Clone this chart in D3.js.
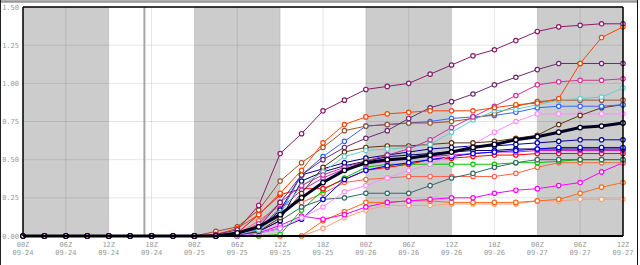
<!DOCTYPE html>
<html>
<head>
<meta charset="utf-8">
<script src="https://cdn.jsdelivr.net/npm/d3@7"></script>
<style>
    body { margin: 0; background: #fff; }
    svg { display: block; }
    .lbl { font-family: "DejaVu Sans Mono", monospace; font-size: 7px; fill: #999; }
</style>
</head>
<body>
<div id="chart"></div>
<script>
// forecast hours from 00Z 09-24, every 3h
const hours = [0, 3, 6, 9, 12, 15, 18, 21, 24, 27, 30, 33, 36, 39, 42, 45, 48, 51, 54, 57, 60, 63, 66, 69, 72, 75, 78, 81, 84];

const tickHours = [0, 6, 12, 18, 24, 30, 36, 42, 48, 54, 60, 66, 72, 78, 84];
const tickTimes = ["00Z", "06Z", "12Z", "18Z", "00Z", "06Z", "12Z", "18Z", "00Z", "06Z", "12Z", "18Z", "00Z", "06Z", "12Z"];
const tickDates = ["09-24", "09-24", "09-24", "09-24", "09-25", "09-25", "09-25", "09-25", "09-26", "09-26", "09-26", "09-26", "09-27", "09-27", "09-27"];
const yTicks = [0, 0.25, 0.5, 0.75, 1, 1.25, 1.5];

const nightBands = [[0, 12], [24, 36], [48, 60], [72, 84]];
const nowHour = 17;

// ensemble members (accumulated amount)
const purple      = [0,0,0,0,0,0,0,0,0, 0.01,0.04,0.20,0.54,0.67,0.82,0.89,0.96,0.98,1.00,1.06,1.12,1.18,1.22,1.28,1.34,1.37,1.38,1.39,1.39];
const orangeRed   = [0,0,0,0,0,0,0,0,0, 0.01,0.05,0.14,0.28,0.43,0.61,0.73,0.78,0.80,0.81,0.82,0.82,0.82,0.84,0.86,0.87,0.90,1.13,1.30,1.37];
const darkPurple  = [0,0,0,0,0,0,0,0,0, 0,0.01,0.06,0.22,0.40,0.50,0.58,0.64,0.69,0.77,0.84,0.88,0.93,0.99,1.04,1.09,1.13,1.13,1.13,1.13];
const violetRed   = [0,0,0,0,0,0,0,0,0, 0,0.01,0.08,0.22,0.33,0.40,0.45,0.49,0.53,0.57,0.63,0.71,0.78,0.85,0.92,0.99,1.01,1.02,1.02,1.03];
const turquoise   = [0,0,0,0,0,0,0,0,0, 0,0.01,0.04,0.15,0.33,0.42,0.52,0.56,0.57,0.58,0.60,0.68,0.76,0.82,0.83,0.86,0.89,0.90,0.91,0.97];
const sienna      = [0,0,0,0,0,0,0,0,0, 0.03,0.06,0.17,0.36,0.48,0.58,0.69,0.72,0.73,0.74,0.74,0.75,0.77,0.80,0.85,0.88,0.89,0.89,0.89,0.89];
const royalBlue   = [0,0,0,0,0,0,0,0,0, 0,0.01,0.04,0.15,0.40,0.52,0.62,0.72,0.73,0.74,0.75,0.77,0.78,0.79,0.81,0.84,0.85,0.85,0.85,0.86];
const darkBrown   = [0,0,0,0,0,0,0,0,0, 0,0.01,0.03,0.12,0.28,0.45,0.55,0.58,0.59,0.59,0.60,0.61,0.61,0.62,0.64,0.66,0.73,0.79,0.84,0.86];
const lightPink   = [0,0,0,0,0,0,0,0,0, 0,0,0.02,0.05,0.12,0.19,0.29,0.33,0.38,0.43,0.47,0.53,0.60,0.68,0.75,0.80,0.80,0.80,0.80,0.80];
const navy        = [0,0,0,0,0,0,0,0,0, 0,0.01,0.04,0.17,0.40,0.44,0.48,0.51,0.53,0.55,0.57,0.58,0.59,0.59,0.60,0.61,0.62,0.63,0.63,0.63];
const blue        = [0,0,0,0,0,0,0,0,0, 0,0,0.02,0.05,0.11,0.24,0.37,0.43,0.46,0.48,0.50,0.52,0.54,0.55,0.56,0.57,0.58,0.58,0.58,0.58];
const darkNavy    = [0,0,0,0,0,0,0,0,0, 0,0.01,0.03,0.10,0.36,0.42,0.46,0.49,0.52,0.53,0.54,0.55,0.56,0.56,0.57,0.57,0.57,0.57,0.57,0.57];
const violet      = [0,0,0,0,0,0,0,0,0, 0,0.01,0.05,0.18,0.30,0.38,0.44,0.47,0.49,0.51,0.52,0.53,0.54,0.55,0.55,0.56,0.56,0.56,0.56,0.56];
const red         = [0,0,0,0,0,0,0,0,0, 0,0.02,0.14,0.27,0.31,0.31,0.37,0.43,0.45,0.47,0.50,0.51,0.52,0.53,0.53,0.54,0.54,0.54,0.54,0.54];
const darkTeal    = [0,0,0,0,0,0,0,0,0, 0,0,0.03,0.10,0.19,0.24,0.25,0.28,0.28,0.28,0.33,0.38,0.41,0.45,0.48,0.50,0.50,0.50,0.50,0.50];
const green       = [0,0,0,0,0,0,0,0,0, 0,0,0,0.01,0.17,0.30,0.38,0.45,0.47,0.47,0.47,0.47,0.47,0.47,0.48,0.48,0.49,0.50,0.50,0.50];
const tomato      = [0,0,0,0,0,0,0,0,0, 0,0.01,0.10,0.20,0.22,0.28,0.35,0.37,0.38,0.39,0.39,0.39,0.39,0.39,0.41,0.45,0.48,0.48,0.48,0.48];
const magenta     = [0,0,0,0,0,0,0,0,0, 0,0,0.02,0.07,0.13,0.11,0.14,0.19,0.22,0.23,0.24,0.25,0.25,0.28,0.30,0.31,0.33,0.35,0.42,0.48];
const orange      = [0,0,0,0,0,0,0,0,0, 0,0,0,0,0,0.10,0.16,0.22,0.22,0.23,0.23,0.22,0.22,0.22,0.22,0.23,0.24,0.28,0.32,0.35];
const peach       = [0,0,0,0,0,0,0,0,0, 0,0,0,0,0,0.05,0.12,0.17,0.20,0.20,0.20,0.21,0.21,0.21,0.21,0.23,0.23,0.24,0.24,0.24];
const ensMean     = [0,0,0,0,0,0,0,0,0, 0,0.02,0.06,0.14,0.25,0.35,0.43,0.48,0.50,0.51,0.53,0.55,0.58,0.60,0.63,0.65,0.68,0.71,0.72,0.74];

const members = [
    {values: peach, color: "#ffa07a"},
    {values: orange, color: "#ff6a1a"},
    {values: magenta, color: "#ff00ff"},
    {values: tomato, color: "#ff6347"},
    {values: green, color: "#00c800"},
    {values: darkTeal, color: "#336b66"},
    {values: red, color: "#ff0000"},
    {values: violet, color: "#cc22cc"},
    {values: darkNavy, color: "#000066"},
    {values: blue, color: "#0000ff"},
    {values: navy, color: "#000099"},
    {values: lightPink, color: "#ff8cff"},
    {values: darkBrown, color: "#663311"},
    {values: royalBlue, color: "#3366ff"},
    {values: sienna, color: "#a0522d"},
    {values: turquoise, color: "#66cccc"},
    {values: violetRed, color: "#cc3399"},
    {values: darkPurple, color: "#6e2a6e"},
    {values: orangeRed, color: "#ff4500"},
    {values: purple, color: "#8b1a6b"}
];

const margin = {top: 7, right: 17, bottom: 29, left: 23};
const W = 640, H = 265;
const width = W - margin.left - margin.right;
const height = H - margin.top - margin.bottom;

const svg = d3.select("#chart").append("svg")
    .attr("width", W)
    .attr("height", H);

// outer frame bits
svg.append("line").attr("x1", 0).attr("x2", 638).attr("y1", 1.5).attr("y2", 1.5)
    .attr("stroke", "#999").attr("stroke-width", 2.5);
svg.append("line").attr("x1", 0.5).attr("x2", 0.5).attr("y1", 0).attr("y2", H)
    .attr("stroke", "#222").attr("stroke-width", 1);
svg.append("line").attr("x1", 637.5).attr("x2", 637.5).attr("y1", 0).attr("y2", H)
    .attr("stroke", "#111").attr("stroke-width", 1);

const g = svg.append("g").attr("transform", `translate(${margin.left},${margin.top})`);

const x = d3.scaleLinear().domain([0, 84]).range([0, width]);
const y = d3.scaleLinear().domain([0, 1.5]).range([height, 0]);

// night shading
g.selectAll(".band")
    .data(nightBands)
    .join("rect")
    .attr("class", "band")
    .attr("x", d => x(d[0]))
    .attr("width", d => x(d[1]) - x(d[0]))
    .attr("y", 0)
    .attr("height", height)
    .attr("fill", "#cccccc");

// grid
g.selectAll(".hgrid")
    .data(yTicks)
    .join("line")
    .attr("class", "hgrid")
    .attr("x1", 0).attr("x2", width)
    .attr("y1", d => y(d)).attr("y2", d => y(d))
    .attr("stroke", "rgba(0,0,0,0.1)")
    .attr("stroke-width", 1);

g.selectAll(".vgrid")
    .data(tickHours)
    .join("line")
    .attr("class", "vgrid")
    .attr("x1", d => x(d)).attr("x2", d => x(d))
    .attr("y1", 0).attr("y2", height)
    .attr("stroke", "rgba(0,0,0,0.1)")
    .attr("stroke-width", 1);

// current time marker
g.append("line")
    .attr("x1", x(nowHour)).attr("x2", x(nowHour))
    .attr("y1", 0).attr("y2", height)
    .attr("stroke", "#a6a6a6")
    .attr("stroke-width", 2);

// y labels
g.selectAll(".ylbl")
    .data(yTicks)
    .join("text")
    .attr("class", "lbl ylbl")
    .attr("x", -4)
    .attr("y", d => y(d) + 2.5)
    .attr("text-anchor", "end")
    .text(d => d3.format(".2f")(d));

// x labels
const xl = g.selectAll(".xlbl")
    .data(tickHours)
    .join("text")
    .attr("class", "lbl xlbl")
    .attr("text-anchor", "middle")
    .attr("transform", d => `translate(${x(d)},${height + 10.5})`);
xl.append("tspan").attr("x", 0).attr("y", 0).text((d, i) => tickTimes[i]);
xl.append("tspan").attr("x", 0).attr("y", 8).text((d, i) => tickDates[i]);

const line = d3.line()
    .x((d, i) => x(hours[i]))
    .y(d => y(d));

members.forEach(m => {
    g.append("path")
        .datum(m.values)
        .attr("fill", "none")
        .attr("stroke", m.color)
        .attr("stroke-width", 1)
        .attr("d", line);
    g.selectAll(null)
        .data(m.values)
        .join("circle")
        .attr("cx", (d, i) => x(hours[i]))
        .attr("cy", d => y(d))
        .attr("r", 2.2)
        .attr("fill", "#fff")
        .attr("stroke", m.color)
        .attr("stroke-width", 1.2);
});

// ensemble mean on top
g.append("path")
    .datum(ensMean)
    .attr("fill", "none")
    .attr("stroke", "#000022")
    .attr("stroke-width", 3)
    .attr("d", line);
g.selectAll(".meanpt")
    .data(ensMean)
    .join("circle")
    .attr("class", "meanpt")
    .attr("cx", (d, i) => x(hours[i]))
    .attr("cy", d => y(d))
    .attr("r", 2.3)
    .attr("fill", "#fff")
    .attr("stroke", "#000022")
    .attr("stroke-width", 1.3);

// plot border
g.append("line").attr("x1", 0).attr("x2", width).attr("y1", 0).attr("y2", 0)
    .attr("stroke", "#000").attr("stroke-width", 1.5);
g.append("line").attr("x1", 0).attr("x2", 0).attr("y1", 0).attr("y2", height)
    .attr("stroke", "#000").attr("stroke-width", 1.5);
g.append("line").attr("x1", width).attr("x2", width).attr("y1", 0).attr("y2", height)
    .attr("stroke", "#000").attr("stroke-width", 1.5);
g.append("line").attr("x1", 0).attr("x2", width).attr("y1", height).attr("y2", height)
    .attr("stroke", "#000").attr("stroke-width", 2);
</script>
</body>
</html>
